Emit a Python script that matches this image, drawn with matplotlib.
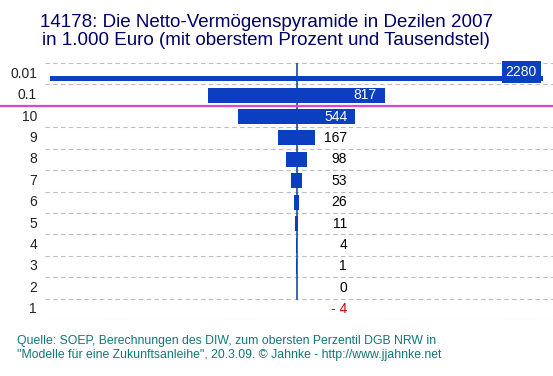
import matplotlib
matplotlib.use("Agg")
import matplotlib.pyplot as plt

# Data: net wealth per decile 2007, in 1,000 Euro
rows = ["0.01", "0.1", "10", "9", "8", "7", "6", "5", "4", "3", "2", "1"]
values = [2280, 817, 544, 167, 98, 53, 26, 11, 4, 1, 0, -4]

title = ("14178: Die Netto-Vermögenspyramide in Dezilen 2007\n"
         "in 1.000 Euro (mit oberstem Prozent und Tausendstel)")
source = ("Quelle: SOEP, Berechnungen des DIW, zum obersten Perzentil DGB NRW in\n"
          "\"Modelle für eine Zukunftsanleihe\", 20.3.09. © Jahnke - http://www.jjahnke.net")

BLUE = "#0b3fbf"
LINE = "#1f4a9c"
W, H = 553, 376

plt.rcParams["font.family"] = ["Liberation Sans", "DejaVu Sans"]

fig = plt.figure(figsize=(W / 100, H / 100), dpi=100)
fig.patch.set_facecolor("white")

# axes placed in pixel terms: x 45..553, y 63..320
left_px, right_px, top_px, bot_px = 45, 553, 63, 320
ax = fig.add_axes([left_px / W, 1 - bot_px / H,
                   (right_px - left_px) / W, (bot_px - top_px) / H])
ax.set_facecolor("white")

px_per_unit = 493 / 2280
center_px = 296.5
ax.set_xlim((left_px - center_px) / px_per_unit, (right_px - center_px) / px_per_unit)
ax.set_ylim(len(rows), 0)

# dashed gridlines between rows
for k in range(len(rows) + 1):
    if k == 2:
        continue
    ax.axhline(k, color="#bdbdbd", lw=0.8, ls=(0, (4, 3)), zorder=1)

# magenta separator between top groups and deciles
ax.axhline(2, xmin=-left_px / (right_px - left_px), xmax=1, color="#dd44dd",
           lw=1.6, clip_on=False, zorder=3)

# center line
ax.plot([0, 0], [0, len(rows) - 1], color=LINE, lw=1.2, zorder=2)

for i, (lab, v) in enumerate(zip(rows, values)):
    yc = i + 0.5
    w = max(v, 0)
    if i == 0:
        ax.barh(i + 0.71, w, left=-w / 2, height=0.22, color=BLUE, zorder=4)
        ax.text(w / 2 - 6 / px_per_unit, i + 0.43, f"{v}", ha="right", va="center",
                color="white", fontsize=10, zorder=6,
                bbox=dict(boxstyle="square,pad=0.28", fc=BLUE, ec="none"))
    else:
        ax.barh(yc, w, left=-w / 2, height=0.7, color=BLUE, zorder=4)
        if v >= 500:
            ax.text(w / 2 - 8 / px_per_unit, yc, f"{v}", ha="right", va="center",
                    color="white", fontsize=10, zorder=6)
        else:
            txt = f"- {abs(v)}" if v < 0 else f"{v}"
            ax.text((347 - center_px) / px_per_unit, yc, txt, ha="right", va="center",
                    color="#cc0000" if v < 0 else "black", fontsize=10, zorder=6)
    ax.text(-(center_px - 37) / px_per_unit, yc, lab, ha="right", va="center",
            color="#222222", fontsize=10, clip_on=False)

ax.set_xticks([])
ax.set_yticks([])
for s in ax.spines.values():
    s.set_visible(False)

fig.text(266 / W, 1 - 31.5 / H, title, ha="center", va="center", color="#000066",
         fontsize=13.5, linespacing=1.15)
fig.text(17 / W, 1 - 348 / H, source, ha="left", va="center", color="#137575",
         fontsize=8.8, linespacing=1.15)

fig.savefig("out.png", dpi=100, facecolor="white")
